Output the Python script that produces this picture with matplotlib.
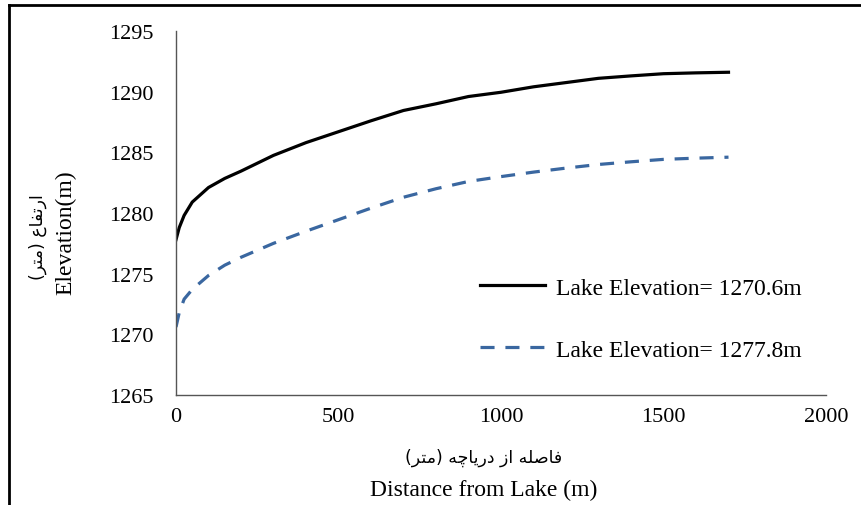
import matplotlib
matplotlib.use("Agg")
from matplotlib import pyplot as plt
from matplotlib.lines import Line2D

# distance from the lake (m)
distance = [0, 10, 25, 50, 100, 150, 200, 300, 400, 500, 600, 700, 800,
            900, 1000, 1100, 1200, 1300, 1400, 1500, 1600, 1700]

# ground elevation (m) for the two lake levels
elev_low = [1277.8, 1278.8, 1279.8, 1280.9, 1282.1, 1282.85, 1283.45, 1284.75,
            1285.8, 1286.7, 1287.6, 1288.45, 1289.0, 1289.6, 1289.95, 1290.4,
            1290.75, 1291.1, 1291.3, 1291.48, 1291.55, 1291.6]
elev_high = [1270.6, 1271.8, 1272.9, 1273.7, 1274.85, 1275.7, 1276.35, 1277.5,
             1278.5, 1279.45, 1280.4, 1281.3, 1282.0, 1282.6, 1283.0, 1283.37,
             1283.7, 1284.0, 1284.22, 1284.42, 1284.52, 1284.6]

labels = ["Lake Elevation= 1270.6m", "Lake Elevation= 1277.8m"]
x_ticks = [0, 500, 1000, 1500, 2000]
y_ticks = [1265, 1270, 1275, 1280, 1285, 1290, 1295]

# Persian labels, written in visual order with presentation forms
fa_meter = "(\uFEAE\uFE98\uFEE3)"
fa_ylabel = fa_meter + " \uFEC9\uFE8E\uFED4\uFE97\uFEAD\uFE8D"
fa_xlabel = (fa_meter + " \uFEEA\uFB7C\uFE8E\uFBFE\uFEAD\uFEA9"
             " \uFEAF\uFE8D \uFEEA\uFEE0\uFEBB\uFE8E\uFED3")

SERIF = "Liberation Serif"
plt.rcParams["font.family"] = SERIF

fig = plt.figure(figsize=(8.61, 5.06), dpi=100)
ax = fig.add_axes([176 / 861, 1 - 396 / 506, 650 / 861, 364 / 506])

ax.plot(distance, elev_low, color="black", lw=2.3, label=labels[0])
ax.plot(distance, elev_high, color="#3A67A0", lw=2.3,
        linestyle=(0, (4.4, 3.4)), label=labels[1])

ax.set_xlim(0, 2000)
ax.set_ylim(1265, 1295)
ax.set_xticks(x_ticks)
ax.set_yticks(y_ticks)
ax.tick_params(axis="both", length=0, labelsize=16)
ax.tick_params(axis="y", pad=16)
ax.tick_params(axis="x", pad=9)
for side in ["top", "right"]:
    ax.spines[side].set_visible(False)
for side in ["left", "bottom"]:
    ax.spines[side].set_color("#555555")
    ax.spines[side].set_linewidth(1.0)

ax.legend(loc="upper left", bbox_to_anchor=(480 / 861, 1 - 278 / 506),
          bbox_transform=fig.transFigure, frameon=False, fontsize=17,
          handlelength=2.75, handletextpad=0.47, labelspacing=1.72,
          borderpad=0, borderaxespad=0)

# axis titles, Persian above/left of English
fig.text(484 / 861, 1 - 458 / 506, fa_xlabel, ha="center", va="center",
         family=["DejaVu Sans"], fontsize=12.5)
fig.text(484 / 861, 1 - 490 / 506, "Distance from Lake (m)", ha="center",
         va="center", fontsize=17)
fig.text(38 / 861, 1 - 237 / 506, fa_ylabel, ha="center", va="center",
         rotation=90, family=["DejaVu Sans"], fontsize=12.5)
fig.text(66 / 861, 1 - 233 / 506, "Elevation(m)", ha="center", va="center",
         rotation=90, fontsize=17)

# outer frame (only top and left edges show in the original)
fig.add_artist(Line2D([9 / 861, 1], [1 - 6 / 506, 1 - 6 / 506],
                      transform=fig.transFigure, color="black", lw=2))
fig.add_artist(Line2D([9 / 861, 9 / 861], [0, 1 - 6 / 506],
                      transform=fig.transFigure, color="black", lw=2))

fig.savefig("out.png", dpi=100)
